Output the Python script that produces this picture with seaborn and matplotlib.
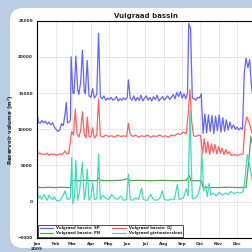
import matplotlib
matplotlib.use("Agg")
import matplotlib.pyplot as plt
from matplotlib.patches import FancyBboxPatch
import pandas as pd
import seaborn as sns

start = pd.Timestamp("2009-01-01")

# Vulgraad bassin SP (day of year, m3)
sp_days = [0, 2, 5, 8, 11, 14, 17, 20, 23, 26, 29, 32, 35, 38, 41, 44, 47, 49, 51, 54,
           56, 57, 60, 62, 65, 68, 70, 73, 76, 79, 81, 84, 87, 90, 93, 96, 100, 103, 106, 109,
           112, 115, 118, 121, 124, 127, 130, 133, 136, 139, 142, 145, 148, 151, 153, 156, 159, 162, 165, 168,
           171, 174, 177, 180, 183, 186, 189, 192, 195, 198, 201, 204, 207, 210, 213, 216, 219, 222, 225, 228,
           231, 234, 237, 240, 243, 246, 249, 252, 254, 257, 260, 263, 266, 269, 272, 275, 278, 281, 284, 287,
           290, 293, 296, 299, 302, 305, 308, 311, 314, 317, 320, 323, 326, 329, 332, 335, 338, 341, 344, 347,
           350, 353, 356, 359, 362, 365]
sp_vol = [12400, 11000, 10800, 11200, 10900, 11100, 10700, 11000, 10600, 10900, 10300, 10000, 9700, 9900, 10800, 10500, 12200, 13700, 10900, 11000,
          11300, 20000, 15000, 14900, 20100, 15500, 14800, 16500, 20900, 15200, 14900, 19500, 14600, 14400, 15600, 14300, 14800, 23250, 14500, 14200,
          14600, 14000, 14300, 14100, 14400, 14000, 14200, 14500, 13900, 14200, 14000, 14300, 14100, 14400, 16800, 14300, 14000, 14600, 13900, 14400,
          14000, 14700, 13900, 14300, 14600, 14000, 14400, 13900, 14500, 14100, 14700, 13900, 14200, 14500, 14000, 14300, 14600, 14100, 14400, 14800,
          14200, 15100, 14500, 15200, 14300, 14900, 14200, 15000, 24600, 23900, 14300, 14200, 14000, 14400, 14300, 14900, 9400, 12100, 9500, 12000,
          9700, 11900, 9400, 11800, 9800, 12000, 9600, 11600, 9700, 11300, 9900, 11000, 10100, 10600, 10000, 10300, 9900, 10200, 10000, 17700,
          19800, 18500, 19600, 16000, 14000, 12000]

# Vulgraad bassin GJ
gj_days = [0, 2, 5, 8, 11, 14, 17, 20, 23, 26, 29, 32, 35, 38, 41, 44, 47, 50, 53, 56,
           58, 61, 64, 67, 70, 73, 76, 79, 82, 84, 87, 90, 93, 96, 100, 103, 106, 110, 115, 120,
           125, 130, 135, 140, 145, 150, 153, 156, 160, 165, 170, 175, 180, 185, 190, 195, 200, 205, 210, 215,
           220, 225, 230, 235, 240, 245, 250, 253, 256, 259, 262, 266, 270, 274, 277, 280, 283, 286, 289, 292,
           295, 298, 301, 304, 307, 310, 313, 316, 319, 322, 325, 330, 335, 340, 345, 348, 351, 355, 360, 365]
gj_vol = [7300, 6600, 6700, 6500, 6600, 6500, 6700, 6400, 6600, 6500, 6600, 6400, 6500, 6600, 6500, 6700, 7000, 6600, 6700, 8400,
          9700, 9200, 12800, 9400, 8900, 9800, 12400, 9300, 8800, 11700, 9000, 8900, 10200, 8800, 9200, 14200, 9100, 8900, 9200, 9000,
          9100, 8900, 9200, 9000, 9100, 9000, 10800, 9300, 9000, 9200, 8900, 9100, 9000, 9200, 8900, 9100, 9000, 9200, 9000, 9100,
          8900, 9200, 9100, 9400, 9300, 9600, 9400, 12000, 15500, 11000, 9100, 9000, 9200, 9100, 6600, 8700, 6700, 8300, 6500, 8000,
          6800, 7900, 6600, 7600, 6700, 7400, 6500, 7200, 6600, 6900, 6400, 6500, 6400, 6500, 6600, 10300, 11700, 11000, 9500, 8000]

# Vulgraad bassin PN
pn_days = [0, 10, 20, 30, 40, 50, 56, 58, 62, 70, 80, 90, 100, 103, 106, 120, 140, 153, 156, 170,
           190, 210, 230, 250, 255, 258, 270, 275, 278, 300, 320, 340, 350, 355, 358, 362, 365]
pn_vol = [2000, 1950, 2000, 1950, 2000, 1950, 2000, 2900, 2950, 2900, 2950, 2900, 2900, 3300, 2950, 2900, 2950, 3200, 2900, 2950,
          2900, 2950, 2900, 2950, 3600, 2900, 2900, 2900, 2000, 1950, 2000, 1950, 2000, 6000, 9000, 7500, 5000]

# Vulgraad gietwatersloot
gw_days = [0, 2, 5, 8, 11, 14, 17, 20, 23, 26, 29, 32, 35, 38, 41, 44, 47, 50, 53, 56,
           58, 60, 63, 65, 68, 71, 73, 76, 79, 81, 84, 87, 90, 93, 96, 100, 103, 106, 110, 115,
           120, 125, 130, 135, 140, 145, 150, 153, 156, 160, 165, 170, 175, 178, 185, 190, 195, 200, 205, 210,
           213, 220, 225, 230, 235, 238, 245, 250, 253, 256, 258, 260, 265, 270, 274, 276, 279, 282, 285, 288,
           291, 295, 300, 305, 310, 315, 320, 325, 330, 335, 340, 345, 348, 352, 356, 360, 365]
gw_vol = [2600, 500, 800, 300, 1000, 600, 200, 900, 500, 300, 700, 200, 100, 150, 500, 900, 1500, 400, 300, 600,
          6100, -300, 800, 5700, 200, 1200, 3000, 5400, 300, 1000, 4500, 200, 600, 2600, 300, 400, 6600, 300, 900, 500,
          300, 1000, 500, 300, 800, 200, 300, 3800, 300, 200, 500, 300, 1900, 300, 200, 1000, 300, 200, 400, 1500,
          300, 200, 400, 300, 2400, 300, 500, 1800, 800, 12600, 6000, 400, 500, 1000, 2500, 6600, 1500, 2200, 700, 2500,
          900, 1200, 800, 1300, 900, 1200, 1000, 1400, 1100, 1300, 1200, 1400, 3000, 6500, 5000, 3000, 1500]

month_labels = ["Jan\n2009", "Feb", "Mar", "Apr", "May", "Jun", "Jul", "Aug", "Sep", "Oct", "Nov", "Dec"]
y_ticks = [-5000, 0, 5000, 10000, 15000, 20000, 25000]

series = [
    ("Vulgraad bassin: SP", sp_days, sp_vol, "#6464ff"),
    ("Vulgraad bassin: GJ", gj_days, gj_vol, "#ff6060"),
    ("Vulgraad bassin: PN", pn_days, pn_vol, "#5a9e5a"),
    ("Vulgraad gietwatersloot", gw_days, gw_vol, "#40dcbc"),
]

sns.set_style("white")
plt.rcParams["font.family"] = ["DejaVu Sans"]

fig = plt.figure(figsize=(2.52, 2.52), dpi=100, facecolor="#b9cde5")
panel = FancyBboxPatch((0.04, 0.016), 1.1, 0.952,
                       boxstyle="round,pad=0,rounding_size=0.05",
                       transform=fig.transFigure, facecolor="white",
                       edgecolor="none", zorder=-10)
fig.patches.append(panel)

ax = fig.add_axes([0.147, 0.0556, 0.865, 0.863])
ax.set_facecolor("white")
ax.set_zorder(5)

for name, days, vol, col in series:
    df = pd.DataFrame({"date": start + pd.to_timedelta(days, unit="D"), "vol": vol})
    sns.lineplot(data=df, x="date", y="vol", color=col, lw=0.9, ax=ax,
                 label=name, estimator=None, sort=False)

ax.set_xlim(start, pd.Timestamp("2010-01-01"))
ax.set_ylim(-5000, 25000)
month_ticks = pd.date_range("2009-01-01", periods=len(month_labels), freq="MS")
ax.set_xticks(month_ticks)
ax.set_xticklabels(month_labels)
ax.set_yticks(y_ticks)
ax.tick_params(labelsize=3, length=1.5, width=0.5, pad=1.5)
for lbl in ax.get_xticklabels() + ax.get_yticklabels():
    lbl.set_fontweight("bold")
ax.grid(True, color="#dedede", lw=0.5)
for sp in ax.spines.values():
    sp.set_color("black")
    sp.set_linewidth(0.8)

ax.set_xlabel("")
ax.set_ylabel("Reservoir volume (m$^3$)", fontsize=4, fontweight="bold", labelpad=1.5)
ax.set_title("Vulgraad bassin", fontsize=5, fontweight="bold", pad=2)

handles, labels = ax.get_legend_handles_labels()
order = [0, 2, 1, 3]
leg = ax.legend([handles[i] for i in order], [labels[i] for i in order],
                ncol=2, loc="lower left", frameon=True, fancybox=False,
                borderaxespad=0.3, handlelength=3.5, columnspacing=3,
                borderpad=0.35, labelspacing=0.35, prop={"weight": "bold", "size": 2.8})
leg.get_frame().set_edgecolor("black")
leg.get_frame().set_linewidth(0.6)

fig.savefig("out.png", dpi=100, facecolor=fig.get_facecolor())
